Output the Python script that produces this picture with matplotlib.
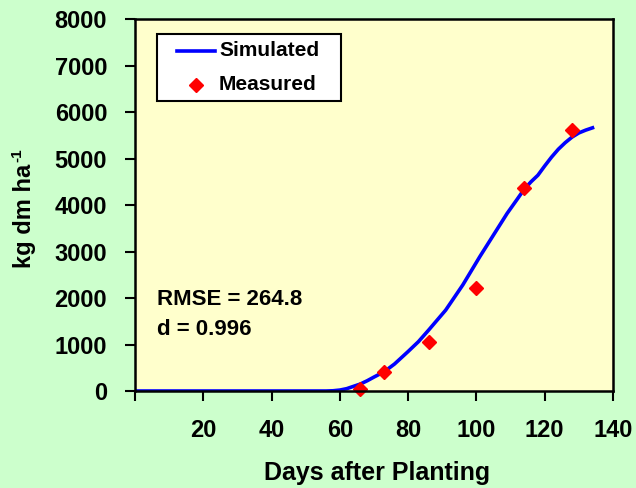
import matplotlib
matplotlib.use("Agg")
import matplotlib.pyplot as plt
from matplotlib.patches import Rectangle
from matplotlib.lines import Line2D

sim_days = [0, 56, 58, 60, 62, 64, 66, 68, 70, 73, 76, 80, 83, 86, 91, 96, 101, 105, 109, 112, 114, 116, 118, 120, 122, 124, 126, 128, 130, 132, 134]
sim_vals = [0, 0, 5, 20, 50, 100, 150, 220, 300, 415, 580, 850, 1060, 1310, 1740, 2280, 2890, 3355, 3820, 4130, 4340, 4500, 4640, 4840, 5030, 5200, 5340, 5460, 5550, 5610, 5660]

meas_days = [66, 73, 86, 100, 114, 128]
meas_vals = [50, 410, 1050, 2210, 4370, 5620]

x_ticks = [0, 20, 40, 60, 80, 100, 120, 140]
x_labels = ["", "20", "40", "60", "80", "100", "120", "140"]
y_ticks = [0, 1000, 2000, 3000, 4000, 5000, 6000, 7000, 8000]

plt.rcParams['font.family'] = ['Liberation Sans', 'DejaVu Sans']
plt.rcParams['font.weight'] = 'bold'

W, H = 636, 488
def fx(px):
    return px / W
def fy(py):
    return 1 - py / H

fig = plt.figure(figsize=(6.36, 4.88), dpi=100, facecolor='#CCFFCC')
ax = fig.add_axes([135/W, 1-391/H, (613-135)/W, (391-19)/H])
ax.set_facecolor('#FFFFCC')

sim_color = '#0000FF'
meas_color = '#FF0000'
ax.plot(sim_days, sim_vals, color=sim_color, lw=2.6, solid_joinstyle='round')
ax.plot(meas_days, meas_vals, linestyle='none', marker='D', color=meas_color,
        markersize=7, clip_on=False)

ax.set_xlim(0, 140)
ax.set_ylim(0, 8000)
ax.set_xticks(x_ticks)
ax.set_xticklabels(x_labels)
ax.set_yticks(y_ticks)
ax.tick_params(axis='both', direction='out', length=7, width=1.5, labelsize=17, pad=13)
for lab in ax.get_xticklabels() + ax.get_yticklabels():
    lab.set_fontweight('bold')
for s in ax.spines.values():
    s.set_linewidth(1.8)

fig.text(377/W, 1-473/H, 'Days after Planting', fontsize=18, fontweight='bold',
         ha='center', va='center')
fig.text(25/W, 1-216/H, 'kg dm ha', fontsize=17, fontweight='bold',
         ha='center', va='center', rotation=90)
fig.text(17/W, 1-155/H, '-1', fontsize=11, fontweight='bold',
         ha='center', va='center', rotation=90)

ax.text(0.047, 0.245, 'RMSE = 264.8', transform=ax.transAxes, fontsize=16, fontweight='bold', va='center')
ax.text(0.047, 0.165, 'd = 0.996', transform=ax.transAxes, fontsize=16, fontweight='bold', va='center')

# legend box
fig.patches.append(Rectangle((fx(157), fy(101)), fx(341) - fx(157), fy(34) - fy(101),
                             transform=fig.transFigure, facecolor='white', edgecolor='black',
                             linewidth=1.5, zorder=5))
fig.lines.append(Line2D([fx(177), fx(215)], [fy(51), fy(51)], transform=fig.transFigure,
                        color=sim_color, lw=2.6, zorder=6))
fig.lines.append(Line2D([fx(196)], [fy(85)], transform=fig.transFigure, linestyle='none',
                        marker='D', color=meas_color, markersize=7, zorder=6))
fig.text(fx(219), fy(51), 'Simulated', fontsize=15, fontweight='bold', va='center', zorder=7)
fig.text(fx(219), fy(85), 'Measured', fontsize=15, fontweight='bold', va='center', zorder=7)

fig.savefig('out.png', dpi=100, facecolor=fig.get_facecolor())
